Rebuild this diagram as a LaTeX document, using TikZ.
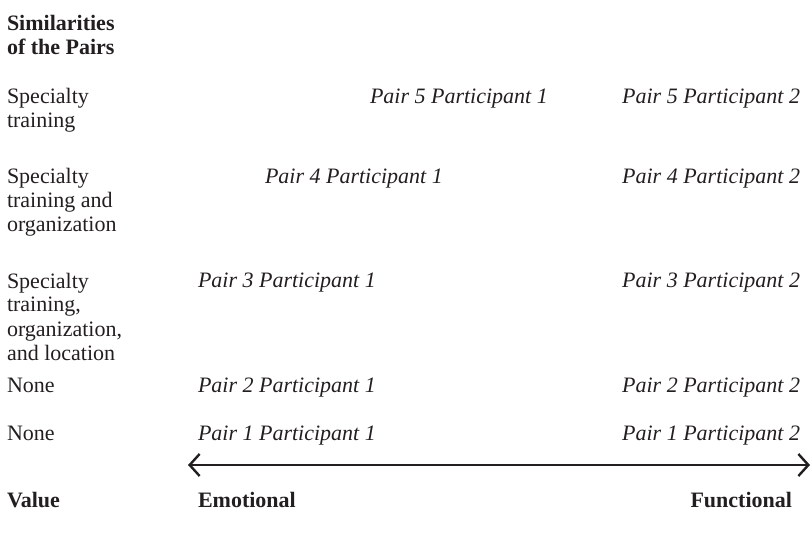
\documentclass[tikz,border=0pt]{standalone}
\usepackage{fontspec}
\setmainfont{Liberation Serif}
\usetikzlibrary{arrows.meta}
\definecolor{ink}{HTML}{231F20}
\begin{document}
\begin{tikzpicture}[x=1pt,y=-1pt,
  txt/.style={inner sep=0pt, outer sep=0pt, text=ink, font=\fontsize{22}{24}\selectfont},
  mline/.style={txt, anchor=north west, align=left},
  bmline/.style={mline, font=\fontsize{22}{24}\selectfont\bfseries},
  rowlbl/.style={txt, anchor=base west},
  bold/.style={txt, font=\fontsize{22}{24}\selectfont\bfseries},
  partL/.style={txt, font=\fontsize{22}{24}\selectfont\itshape, anchor=base west},
  partR/.style={txt, font=\fontsize{22}{24}\selectfont\itshape, anchor=base east},
  axis/.style={draw=ink, line width=2.4pt, {Straight Barb[length=10pt,width=22pt]}-{Straight Barb[length=10pt,width=22pt]}}
]
\useasboundingbox (0,0) rectangle (811,534);
% left column
\node[bmline] (head) at (7,14.2) {\strut Similarities\\of the Pairs};
\node[mline] (r5) at (7,87.2) {\strut Specialty\\training};
\node[mline] (r4) at (7,167.2) {\strut Specialty\\training and\\organization};
\node[mline] (r3) at (7,271.2) {\strut Specialty\\training,\\organization,\\and location};
\node[rowlbl] (r2) at (7,392) {None};
\node[rowlbl] (r1) at (7,440) {None};
\node[bold, anchor=base west] (val) at (7,507) {Value};
% participants
\node[partL] (p5a) at (370,104) {Pair 5 Participant 1};
\node[partR] (p5b) at (800,104) {Pair 5 Participant 2};
\node[partL] (p4a) at (265,184) {Pair 4 Participant 1};
\node[partR] (p4b) at (800,184) {Pair 4 Participant 2};
\node[partL] (p3a) at (198,288) {Pair 3 Participant 1};
\node[partR] (p3b) at (800,288) {Pair 3 Participant 2};
\node[partL] (p2a) at (198,392) {Pair 2 Participant 1};
\node[partR] (p2b) at (800,392) {Pair 2 Participant 2};
\node[partL] (p1a) at (198,440) {Pair 1 Participant 1};
\node[partR] (p1b) at (800,440) {Pair 1 Participant 2};
% axis
\coordinate (emo) at (188,465);
\coordinate (fun) at (810,465);
\draw[axis] (emo) -- (fun);
\node[bold, anchor=base west] (el) at (198,507) {Emotional};
\node[bold, anchor=base east] (fl) at (792,507) {Functional};
\end{tikzpicture}
\end{document}
